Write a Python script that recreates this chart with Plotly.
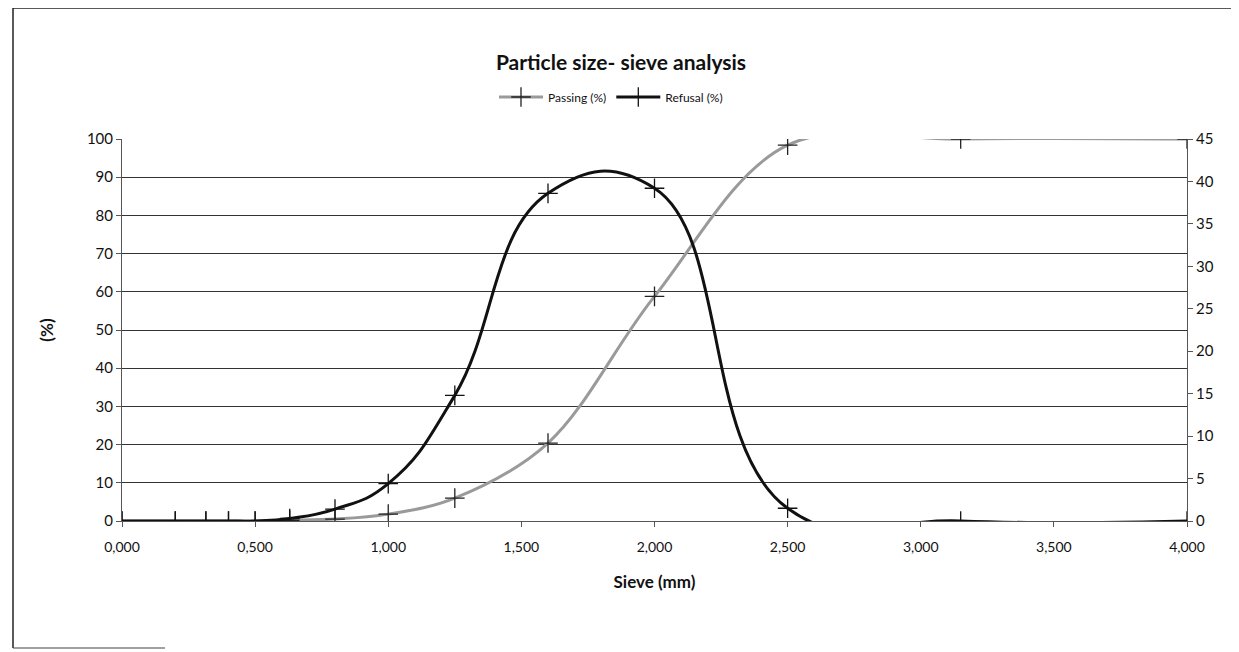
import plotly.graph_objects as go

sieve_mm = [0.0, 0.2, 0.315, 0.4, 0.5, 0.63, 0.8, 1.0, 1.25, 1.6, 2.0, 2.5, 3.15, 4.0]
passing_pct = [0, 0, 0, 0, 0, 0.2, 0.5, 1.8, 6.0, 20.4, 58.8, 98.4, 100, 100]
refusal_pct = [0, 0, 0, 0, 0, 0.3, 1.4, 4.4, 14.8, 38.6, 39.2, 1.5, 0, 0]

FONT = "Lato"
OFF = 8  # page body margin
W, H = 1239 - OFF, 652 - OFF
# plot area in screen pixels
SL, SR, ST, SB = 122, 1187, 139, 521
L, R, T, B = SL - OFF, SR - OFF, ST - OFF, SB - OFF

fig = go.Figure()
fig.add_trace(go.Scatter(
    x=sieve_mm, y=passing_pct, name="Passing (%)", mode="lines+markers",
    line=dict(color="#9a9a9a", width=3, shape="spline"),
    marker=dict(symbol="cross-thin", size=14, line=dict(color="#222", width=1.3), color="#222"),
    yaxis="y"))
fig.add_trace(go.Scatter(
    x=sieve_mm, y=refusal_pct, name="Refusal (%)", mode="lines+markers",
    line=dict(color="#111", width=3, shape="spline", smoothing=1.3),
    marker=dict(symbol="cross-thin", size=14, line=dict(color="#111", width=1.3), color="#111"),
    yaxis="y2"))

def px(sx):
    return (sx - SL) / (SR - SL)

def py(sy):
    return (SB - sy) / (SB - ST)

shapes = [
    dict(type="line", xref="paper", yref="paper", x0=px(13), x1=px(1239), y0=py(8), y1=py(8),
         line=dict(color="#222", width=1.5)),
    dict(type="line", xref="paper", yref="paper", x0=px(13), x1=px(13), y0=py(8), y1=py(648),
         line=dict(color="#222", width=1.5)),
    dict(type="line", xref="paper", yref="paper", x0=px(13), x1=px(165), y0=py(648), y1=py(648),
         line=dict(color="#444", width=1.2)),
]

fig.update_layout(
    width=W, height=H,
    margin=dict(l=L, r=W - R, t=T, b=H - B),
    paper_bgcolor="white", plot_bgcolor="white",
    separators=", ",
    font=dict(family=FONT, color="#111"),
    title=dict(text="<b>Particle size- sieve analysis</b>", x=px(621), xanchor="center",
               xref="paper", y=1 - (63 - OFF) / H, yanchor="middle",
               font=dict(size=21, family=FONT, color="#111")),
    legend=dict(orientation="h", x=px(611), xanchor="center", y=py(97), yanchor="middle",
                font=dict(size=12, family=FONT), bgcolor="rgba(0,0,0,0)", itemwidth=44),
    xaxis=dict(range=[0, 4], dtick=0.5, tick0=0, tickformat=".3f", showgrid=False,
               showline=True, linecolor="#555", linewidth=1, ticks="outside", ticklen=5,
               tickcolor="#555", zeroline=False, tickfont=dict(size=14, family=FONT),
               ticklabelstandoff=8,
               title=dict(text="<b>Sieve (mm)</b>", font=dict(size=17, family=FONT), standoff=22)),
    yaxis=dict(range=[0, 100], dtick=10, showgrid=True, gridcolor="#333", gridwidth=1,
               showline=True, linecolor="#555", linewidth=1, ticks="outside", ticklen=5,
               tickcolor="#555", zeroline=False, tickfont=dict(size=15, family=FONT),
               title=dict(text="<b>(%)</b>", font=dict(size=17, family=FONT), standoff=28)),
    yaxis2=dict(range=[0, 45], dtick=5, overlaying="y", side="right", showgrid=False,
                showline=True, linecolor="#555", linewidth=1, ticks="outside", ticklen=5,
                tickcolor="#555", zeroline=False, tickfont=dict(size=15, family=FONT)),
    shapes=shapes,
)

fig.write_html("out.html")
